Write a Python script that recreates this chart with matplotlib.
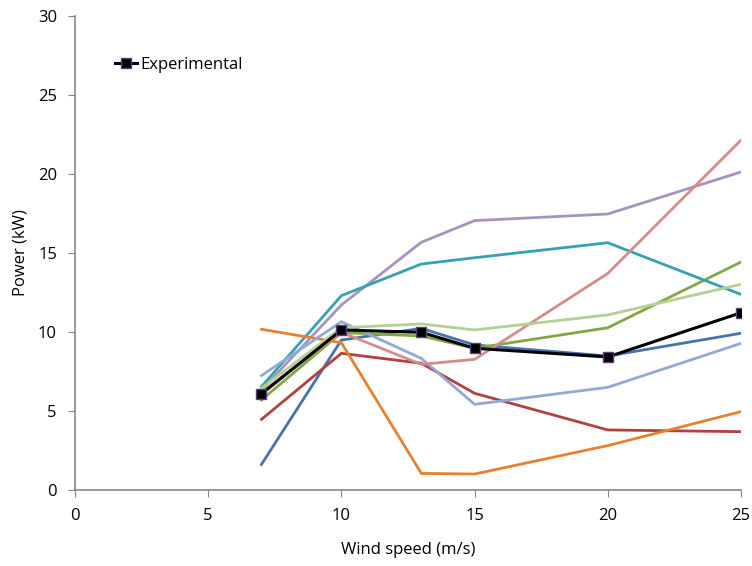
import matplotlib
matplotlib.use("Agg")
import matplotlib.pyplot as plt

wind = [7, 10, 13, 15, 20, 25]

s_blue = [1.62, 9.49, 10.23, 9.18, 8.48, 9.92]
s_red = [4.47, 8.65, 8.02, 6.12, 3.80, 3.69]
s_green = [5.70, 9.96, 9.75, 8.97, 10.27, 14.43]
s_purple = [6.33, 11.71, 15.68, 17.05, 17.47, 20.13]
s_teal = [6.54, 12.30, 14.30, 14.70, 15.65, 12.38]
s_orange = [10.17, 9.32, 1.05, 1.01, 2.81, 4.96]
s_lightblue = [7.24, 10.65, 8.33, 5.42, 6.50, 9.28]
s_pink = [6.20, 9.98, 7.95, 8.27, 13.71, 22.15]
s_lightgreen = [6.45, 10.27, 10.51, 10.13, 11.08, 13.02]
experimental = [6.08, 10.13, 9.98, 8.97, 8.42, 11.22]

plt.rcParams['font.family'] = ["Open Sans", "DejaVu Sans"]

fig = plt.figure(figsize=(7.52, 5.66), dpi=100)
ax = fig.add_axes([0.0997, 0.1343, 0.8857, 0.8374])

series = [
    (s_blue, "#4674AD"),
    (s_red, "#B0413E"),
    (s_green, "#84A643"),
    (s_purple, "#A793BE"),
    (s_teal, "#36A0B4"),
    (s_orange, "#E7812F"),
    (s_lightblue, "#8FAAD6"),
    (s_pink, "#D48C88"),
    (s_lightgreen, "#B4D193"),
]
for vals, c in series:
    ax.plot(wind, vals, color=c, lw=2.0, solid_joinstyle='miter')

ax.plot(wind, experimental, color="black", lw=2.2, marker="s", markersize=7,
        markerfacecolor="black", markeredgecolor="#5B3F7A", markeredgewidth=1.0,
        label="Experimental", zorder=5)

ax.set_xlim(0, 25)
ax.set_ylim(0, 30)
ax.set_xticks([0, 5, 10, 15, 20, 25])
ax.set_yticks([0, 5, 10, 15, 20, 25, 30])
for side in ["top", "right"]:
    ax.spines[side].set_visible(False)
for side in ["left", "bottom"]:
    ax.spines[side].set_color("#868686")
    ax.spines[side].set_linewidth(1.2)
ax.tick_params(direction="out", length=5, color="#868686", labelsize=12, pad=8)
ax.set_xlabel("Wind speed (m/s)", fontsize=12, labelpad=13)
ax.set_ylabel("Power (kW)", fontsize=12, labelpad=7)

ax.legend(loc="upper left", bbox_to_anchor=(0.05, 0.928), frameon=False,
          fontsize=12, handlelength=1.3, handletextpad=0.2, borderaxespad=0)

fig.savefig("out.png", dpi=100)
